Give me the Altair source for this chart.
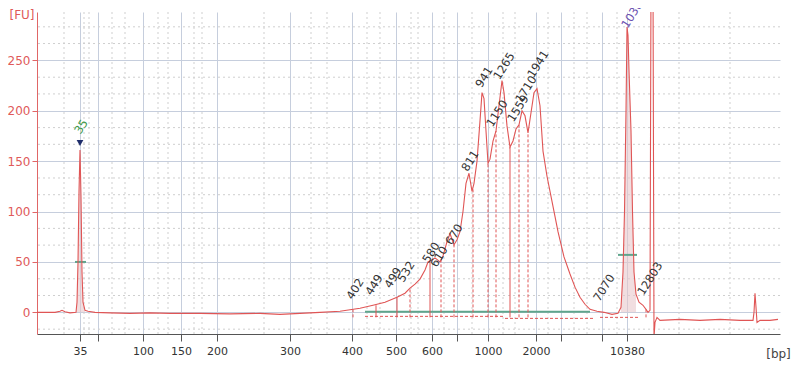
import altair as alt
import pandas as pd

# ---- data (migration time in s, fluorescence in FU)
trace_time = [20.0, 21.8, 22.3, 22.5, 22.8, 23.3, 23.9, 24.0, 24.1, 24.2, 24.3, 24.4, 24.5, 24.6,
              24.8, 25.1, 25.8, 27.3, 29.3, 31.3, 33.3, 36.3, 39.3, 42.3, 44.3, 46.3, 48.3, 50.3,
              51.3, 52.3, 53.6, 54.8, 56.0, 56.8, 57.3, 57.8, 58.3, 58.8, 59.1, 59.5, 59.8, 60.3,
              60.6, 61.0, 61.3, 61.7, 62.0, 62.3, 62.6, 62.9, 63.2, 63.5, 63.7, 64.0, 64.3, 64.5,
              64.7, 64.9, 65.1, 65.3, 65.6, 65.9, 66.2, 66.5, 66.7, 67.0, 67.3, 67.6, 67.9, 68.2,
              68.5, 68.8, 69.1, 69.4, 69.7, 70.0, 70.3, 70.6, 71.0, 71.5, 72.1, 72.7, 73.3, 73.8,
              74.3, 74.8, 75.3, 76.0, 76.7, 77.5, 78.1, 78.4, 78.6, 78.75, 78.9, 79.0, 79.1, 79.2,
              79.4, 79.55, 79.7, 79.9, 80.2, 80.6, 80.9, 81.1, 81.3, 81.4, 81.6, 81.7, 81.8, 82.0,
              82.3, 84.3, 86.3, 88.3, 90.3, 91.6, 91.7, 91.8, 91.9, 92.0, 92.3, 93.3, 94.1]
trace_fu = [0, 0, 1, 2, 0.5, -0.5, 0, 10, 50, 120, 161, 115, 40, 10,
            2, 1, 0, -0.5, -1, -0.5, -1, -1, -1.5, -1, -2, -1, 0, 1,
            2.5, 4, 7, 10, 15, 19, 24, 28, 33, 42, 50, 52, 54, 50,
            56, 70, 78, 67, 72, 80, 100, 128, 138, 120, 128, 150, 190, 218,
            212, 180, 148, 152, 170, 180, 205, 230, 218, 185, 164, 170, 182, 186,
            200, 195, 178, 198, 218, 222, 205, 160, 135, 110, 80, 55, 38, 25,
            15, 8, 3, 1, 0, -2, -1, 5, 40, 100, 200, 283, 275, 240,
            180, 100, 40, 18, 10, 7, 3, 0, 2, 330, 330, -25, -10, -5,
            -8, -7, -8, -7, -8, -8, 0, 19, 5, -10, -8, -8, -7]

# shaded areas under the two marker peaks
lower_area_time = [23.9, 24.0, 24.1, 24.2, 24.3, 24.4, 24.5, 24.6, 24.8]
lower_area_fu = [0, 10, 50, 120, 161, 115, 40, 10, 2]
upper_area_time = [78.4, 78.6, 78.75, 78.9, 79.0, 79.1, 79.2, 79.4, 79.55, 79.7, 79.9]
upper_area_fu = [5, 40, 100, 200, 283, 275, 240, 180, 100, 40, 18]

tick_time = [24.3, 26.1, 30.6, 34.4, 38.0, 45.3, 51.5, 55.9, 59.5, 62.0, 65.1, 69.9, 72.4, 76.5, 79.0]
tick_label = ["35", "", "100", "150", "200", "300", "400", "500", "600", "", "1000", "2000", "", "", "10380"]
minor_time = [22.7, 24.7, 25.2, 27.5, 28.8, 32.1, 33.1, 35.7, 36.5, 42.7, 47.4, 49.0, 53.0, 54.3,
              57.4, 58.1, 60.7, 63.5, 66.6, 67.8, 71.1, 73.7, 75.0, 78.0, 84.2, 89.3]
fu_ticks = [0, 50, 100, 150, 200, 250]
fu_minor = [-16.7, 16.7, 33.3, 66.7, 83.3, 116.7, 133.3, 166.7, 183.3, 216.7, 233.3, 266.7, 283.3]

peak_label = ["35", "402", "449", "499", "532", "580", "610", "670", "811", "941", "1150",
              "1265", "1559", "1710", "1941", "7070", "12803", "10380"]
peak_time = [24.0, 51.2, 53.1, 55.0, 56.3, 58.8, 59.6, 61.1, 62.7, 64.1, 65.2,
             65.9, 67.3, 68.1, 69.3, 75.9, 80.3, 78.7]
peak_fu = [176, 12, 16, 23, 29, 48, 44, 66, 139, 222, 183, 230, 188, 207, 232, 10, 16, 281]
peak_color = ["#3f9a4a"] + ["#333333"] * 16 + ["#6a4fb0"]

dash_time = [51.6, 57.3, 60.4, 61.7, 63.6, 65.1, 65.9, 68.2, 69.1, 80.9]
dash_top = [3, 24, 52, 67, 122, 148, 180, 186, 178, 3]
solid_time = [53.9, 56.0, 59.3, 67.3]
solid_top = [7, 15, 50, 164]
line_bottom = -5

base_start = [52.8, 66.8, 76.3]
base_end = [66.8, 75.8, 80.3]
base_fu = [-4, -6, -5]

green_start = [52.8, 23.8, 78.1]
green_end = [75.3, 24.9, 80.0]
green_fu = [0.5, 50, 57]

marker_time = [24.3]
marker_fu = [168]

# ---- scales / axes
FONT = "DejaVu Sans"
label_expr = "''"
for t, l in reversed(list(zip(tick_time, tick_label))):
    label_expr = f"datum.value == {t} ? '{l}' : ({label_expr})"

xscale = alt.Scale(domain=[20, 94.3], nice=False, zero=False)
yscale = alt.Scale(domain=[-21.5, 298], nice=False, zero=False)
xaxis = alt.Axis(values=tick_time, labelExpr=label_expr, grid=True, gridColor="#c6cedd",
                 domainColor="#555555", tickColor="#555555", tickSize=7, labelColor="#333333",
                 labelFont=FONT, labelFontSize=11, labelPadding=4, labelOverlap=False,
                 labelFlush=False, title="[bp]", titleX=741, titleY=19, titleAlign="center",
                 titleBaseline="middle", titleFont=FONT, titleFontSize=12,
                 titleFontWeight="normal", titleColor="#444444")
yaxis = alt.Axis(values=fu_ticks, grid=True, gridColor="#c6cedd", domainColor="#e06666",
                 tickColor="#e06666", tickSize=5, labelColor="#e05a5a", labelFont=FONT,
                 labelFontSize=12, labelPadding=2, title="[FU]", titleAngle=0, titleX=-28,
                 titleY=2, titleAlign="left", titleBaseline="middle", titleFont=FONT,
                 titleFontSize=12, titleFontWeight="normal", titleColor="#e05a5a")


def X(f):
    return alt.X(f"{f}:Q", scale=xscale, axis=xaxis)


def Y(f):
    return alt.Y(f"{f}:Q", scale=yscale, axis=yaxis, stack=None)


trace = pd.DataFrame({"t": trace_time, "fu": trace_fu})
lower_df = pd.DataFrame({"t": lower_area_time, "fu": lower_area_fu})
upper_df = pd.DataFrame({"t": upper_area_time, "fu": upper_area_fu})
minor_x = pd.DataFrame({"t": minor_time})
minor_y = pd.DataFrame({"fu": fu_minor})
peaks = pd.DataFrame({"t": peak_time, "fu": peak_fu, "label": peak_label, "c": peak_color})
dash_df = pd.DataFrame({"t": dash_time, "top": dash_top, "bot": [line_bottom] * len(dash_time)})
solid_df = pd.DataFrame({"t": solid_time, "top": solid_top, "bot": [line_bottom] * len(solid_time)})
base_df = pd.DataFrame({"t": base_start, "t2": base_end, "fu": base_fu})
green_df = pd.DataFrame({"t": green_start, "t2": green_end, "fu": green_fu})
marker_df = pd.DataFrame({"t": marker_time, "fu": marker_fu})

grid_v = alt.Chart(minor_x).mark_rule(color="#cfcfcf", strokeDash=[2, 3], strokeWidth=1).encode(x=X("t"))
grid_h = alt.Chart(minor_y).mark_rule(color="#cfcfcf", strokeDash=[2, 3], strokeWidth=1).encode(y=Y("fu"))

shade_lo = alt.Chart(lower_df).mark_area(color="#e8c8cc", opacity=0.6, clip=True).encode(
    x=X("t"), y=Y("fu"))
shade_hi = alt.Chart(upper_df).mark_area(color="#e8c8cc", opacity=0.6, clip=True).encode(
    x=X("t"), y=Y("fu"))

base = alt.Chart(base_df).mark_rule(color="#e05555", strokeDash=[3, 2], strokeWidth=1).encode(
    x=X("t"), x2="t2:Q", y=Y("fu"))
green = alt.Chart(green_df).mark_rule(color="#5fa58c", strokeWidth=2).encode(
    x=X("t"), x2="t2:Q", y=Y("fu"))
dash_lines = alt.Chart(dash_df).mark_rule(color="#e05555", strokeDash=[3, 2], strokeWidth=1).encode(
    x=X("t"), y=Y("bot"), y2="top:Q")
solid_lines = alt.Chart(solid_df).mark_rule(color="#e05555", strokeWidth=1).encode(
    x=X("t"), y=Y("bot"), y2="top:Q")

line = alt.Chart(trace).mark_line(color="#e05555", strokeWidth=1.1, clip=True).encode(
    x=X("t"), y=Y("fu"))

labels = alt.Chart(peaks).mark_text(angle=302, align="left", baseline="middle", font=FONT,
                                    fontSize=11.5, dx=2).encode(
    x=X("t"), y=Y("fu"), text="label:N", color=alt.Color("c:N", scale=None))

marker = alt.Chart(marker_df).mark_point(shape="triangle-down", filled=True, size=45,
                                         color="#1f2d6b", opacity=1).encode(x=X("t"), y=Y("fu"))

chart = alt.layer(grid_v, grid_h, shade_lo, shade_hi, base, green, dash_lines, solid_lines,
                  line, labels, marker).properties(
    width=743, height=322, autosize="none",
    padding={"left": 29, "top": 4, "right": 12, "bottom": 33},
    background="white",
).configure_view(stroke=None)

chart.save("out.html", embed_options={"renderer": "svg", "actions": False})
